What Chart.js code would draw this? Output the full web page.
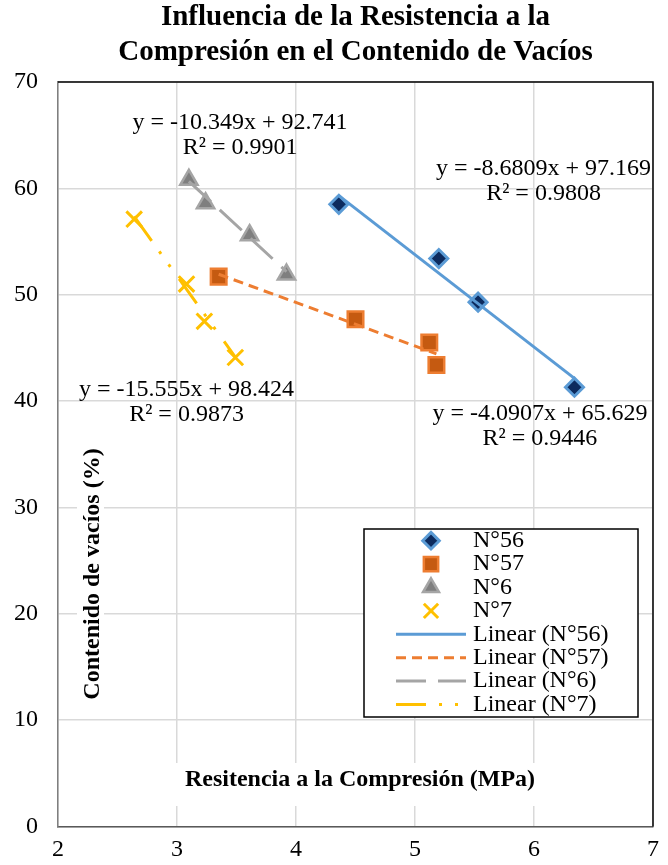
<!DOCTYPE html>
<html>
<head>
<meta charset="utf-8">
<script src="https://cdn.jsdelivr.net/npm/chart.js@4.4.0/dist/chart.umd.min.js"></script>
<style>
  html, body { margin: 0; padding: 0; background: #fff; }
  #wrap { width: 668px; height: 865px; position: relative; }
</style>
</head>
<body>
<div id="wrap"><canvas id="scatterChart"></canvas></div>
<script>
// data
const seriesNames = ['N°56', 'N°57', 'N°6', 'N°7'];
const strength56 = [4.36, 5.20, 5.53, 6.34];
const voids56 = [58.5, 53.4, 49.3, 41.3];
const strength57 = [3.35, 4.50, 5.12, 5.18];
const voids57 = [51.7, 47.7, 45.5, 43.4];
const strength6 = [3.10, 3.24, 3.61, 3.92];
const voids6 = [60.8, 58.6, 55.6, 51.9];
const strength7 = [2.64, 3.08, 3.23, 3.49];
const voids7 = [57.1, 51.0, 47.5, 44.1];
// trendline equations shown on the chart
const slopes = [-8.6809, -4.0907, -10.349, -15.555];
const intercepts = [97.169, 65.629, 92.741, 98.424];
const rSquared = ['0.9808', '0.9446', '0.9901', '0.9873'];
const xTicks = [2, 3, 4, 5, 6, 7];
const yTicks = [0, 10, 20, 30, 40, 50, 60, 70];

const serif = 'Liberation Serif, Times New Roman, serif';
const allX = [strength56, strength57, strength6, strength7];
const allY = [voids56, voids57, voids6, voids7];

const markers = [
  { style: 'rectRot', radius: 9, fill: '#0D2B5E', edge: '#5B9BD5', bw: 3 },
  { style: 'rect', radius: 11, fill: '#C55A11', edge: '#ED7D31', bw: 2.5 },
  { style: 'triangle', radius: 10, fill: '#7F7F7F', edge: '#A5A5A5', bw: 2.5 },
  { style: 'crossRot', radius: 11, fill: '#FFC000', edge: '#FFC000', bw: 3 }
];
const lines = [
  { color: '#5B9BD5', dash: [] },
  { color: '#ED7D31', dash: [10, 6] },
  { color: '#A5A5A5', dash: [30, 12] },
  { color: '#FFC000', dash: [30, 13, 3, 13, 3, 15] }
];
// where the equation labels sit (data units, centre of first line)
const eqAnchors = [[6.08, 61.85], [6.05, 38.8], [3.53, 66.2], [3.08, 41.1]];

const datasets = [];
seriesNames.forEach(function (name, i) {
  const m = markers[i];
  datasets.push({
    label: name,
    data: allX[i].map(function (x, k) { return { x: x, y: allY[i][k] }; }),
    pointStyle: m.style,
    pointRadius: m.radius,
    pointBackgroundColor: m.fill,
    pointBorderColor: m.edge,
    pointBorderWidth: m.bw,
    showLine: false,
    order: 5
  });
});
seriesNames.forEach(function (name, i) {
  const xmin = Math.min.apply(null, allX[i]);
  const xmax = Math.max.apply(null, allX[i]);
  datasets.push({
    label: 'Linear (' + name + ')',
    data: [xmin, xmax].map(function (x) { return { x: x, y: slopes[i] * x + intercepts[i] }; }),
    showLine: true,
    pointRadius: 0,
    borderColor: lines[i].color,
    borderWidth: 3,
    borderDash: lines[i].dash,
    order: 1
  });
});

const overlay = {
  id: 'overlay',
  beforeDatasetsDraw(chart) {
    const ctx = chart.ctx;
    ctx.save();
    // axis titles sit inside the plot on a white patch
    ctx.fillStyle = '#fff';
    ctx.fillRect(174, 763, 368, 43);
    ctx.fillRect(77, 440, 27, 272);
    ctx.fillStyle = '#000';
    ctx.font = 'bold 24px ' + serif;
    ctx.textAlign = 'center';
    ctx.textBaseline = 'middle';
    ctx.fillText('Resitencia a la Compresión (MPa)', 360, 780);
    ctx.translate(93, 574);
    ctx.rotate(-Math.PI / 2);
    ctx.fillText('Contenido de vacíos (%)', 0, 0);
    ctx.restore();
  },
  afterDatasetsDraw(chart) {
    const ctx = chart.ctx;
    const xs = chart.scales.x, ys = chart.scales.y;
    ctx.save();
    ctx.fillStyle = '#000';
    ctx.font = '24px ' + serif;
    ctx.textAlign = 'center';
    ctx.textBaseline = 'middle';
    eqAnchors.forEach(function (a, i) {
      const px = xs.getPixelForValue(a[0]);
      const py = ys.getPixelForValue(a[1]);
      const b = intercepts[i];
      ctx.fillText('y = ' + slopes[i] + 'x ' + (b < 0 ? '- ' : '+ ') + Math.abs(b), px, py);
      ctx.fillText('R² = ' + rSquared[i], px, py + 25);
    });
    ctx.restore();
  },
  afterDraw(chart) {
    const ctx = chart.ctx;
    const area = chart.chartArea;
    ctx.save();
    // top and right frame
    ctx.strokeStyle = '#000';
    ctx.lineWidth = 1.5;
    ctx.beginPath();
    ctx.moveTo(area.left, area.top);
    ctx.lineTo(area.right, area.top);
    ctx.lineTo(area.right, area.bottom);
    ctx.stroke();

    // legend box
    const box = { left: 364, top: 529, right: 638, bottom: 717 };
    ctx.fillStyle = '#fff';
    ctx.fillRect(box.left, box.top, box.right - box.left, box.bottom - box.top);
    ctx.strokeStyle = '#000';
    ctx.lineWidth = 1.5;
    ctx.strokeRect(box.left, box.top, box.right - box.left, box.bottom - box.top);

    const rowY = 540.7, rowStep = 23.4, symX = 431, textX = 473;
    ctx.font = '24px ' + serif;
    ctx.textAlign = 'left';
    ctx.textBaseline = 'middle';
    chart.data.datasets.forEach(function (ds, i) {
      const y = rowY + i * rowStep;
      if (i < 4) {
        const m = markers[i];
        ctx.fillStyle = m.fill;
        ctx.strokeStyle = m.edge;
        ctx.lineWidth = m.bw;
        ctx.setLineDash([]);
        Chart.helpers.drawPoint(ctx, { pointStyle: m.style, radius: m.radius * 0.92, borderWidth: m.bw, rotation: 0 }, symX, y);
      } else {
        const l = lines[i - 4];
        ctx.strokeStyle = l.color;
        ctx.lineWidth = 3;
        ctx.setLineDash(l.dash);
        ctx.beginPath();
        ctx.moveTo(396, y);
        ctx.lineTo(466, y);
        ctx.stroke();
        ctx.setLineDash([]);
      }
      ctx.fillStyle = '#000';
      ctx.fillText(ds.label, textX, y);
    });
    ctx.restore();
  }
};

const ctx = document.getElementById('scatterChart').getContext('2d');
const scatterChart = new Chart(ctx, {
  type: 'scatter',
  data: { datasets: datasets },
  plugins: [overlay],
  options: {
    responsive: true,
    maintainAspectRatio: false,
    animation: false,
    layout: { padding: { right: 13.5 } },
    plugins: {
      legend: { display: false },
      tooltip: { enabled: false },
      title: {
        display: true,
        fullSize: false,
        text: ['Influencia de la Resistencia a la', 'Compresión en el Contenido de Vacíos'],
        color: '#000',
        font: { family: serif, size: 29, weight: 'bold', lineHeight: '35px' },
        padding: { top: 0, bottom: 12 }
      }
    },
    scales: {
      x: {
        type: 'linear',
        min: xTicks[0],
        max: xTicks[xTicks.length - 1],
        afterBuildTicks: function (s) { s.ticks = xTicks.map(function (v) { return { value: v }; }); },
        ticks: { padding: 9, color: '#000', font: { family: serif, size: 24 } },
        grid: { color: '#d9d9d9', lineWidth: 1.5, drawTicks: false },
        border: { color: '#595959', width: 1.5 },
        afterFit: function (s) { s.height = 38.5; }
      },
      y: {
        min: yTicks[0],
        max: yTicks[yTicks.length - 1],
        afterBuildTicks: function (s) { s.ticks = yTicks.map(function (v) { return { value: v }; }); },
        ticks: { padding: 20, color: '#000', font: { family: serif, size: 24 } },
        grid: { color: '#d9d9d9', lineWidth: 1.5, drawTicks: false },
        border: { color: '#7f7f7f', width: 1.5 },
        afterFit: function (s) { s.width = 58; }
      }
    }
  }
});
</script>
</body>
</html>
